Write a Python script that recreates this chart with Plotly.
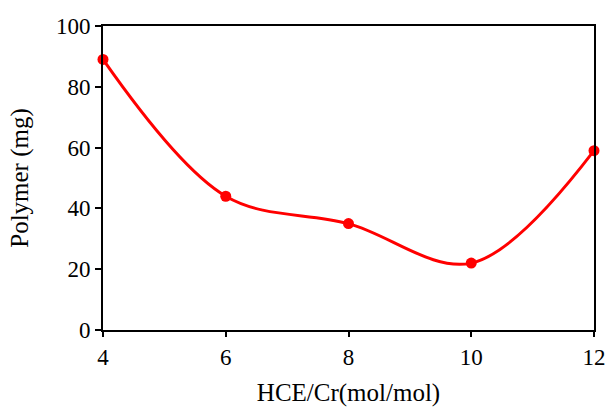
import plotly.graph_objects as go

x_vals = [4, 6, 8, 10, 12]
polymer_mg = [89, 44, 35, 22, 59]
x_ticks = [4, 6, 8, 10, 12]
y_ticks = [0, 20, 40, 60, 80, 100]

fig = go.Figure()
fig.add_trace(go.Scatter(
    x=x_vals, y=polymer_mg, mode="lines+markers",
    line=dict(color="#ff0000", width=3, shape="spline", smoothing=1.0),
    marker=dict(color="#ff0000", size=11),
    cliponaxis=False, showlegend=False,
))

fam = "Liberation Serif, Times New Roman, serif"
tick_font = dict(family=fam, size=23, color="black")
title_font = dict(family=fam, size=25, color="black")
fig.update_layout(
    width=606, height=411,
    margin=dict(l=103, r=12, t=26, b=81),
    plot_bgcolor="white", paper_bgcolor="white",
    font=tick_font,
)
fig.update_xaxes(
    range=[4, 12], tickvals=x_ticks, showgrid=False, zeroline=False,
    showline=True, linecolor="black", linewidth=2, mirror=True,
    ticks="outside", ticklen=5, tickwidth=1.5, tickcolor="black",
    title=dict(text="HCE/Cr(mol/mol)", font=title_font, standoff=15),
    tickfont=tick_font, automargin=False, ticklabeloverflow="allow",
)
fig.update_yaxes(
    range=[0, 100], tickvals=y_ticks, showgrid=False, zeroline=False,
    showline=True, linecolor="black", linewidth=2, mirror=True,
    ticks="outside", ticklen=6, tickwidth=1.5, tickcolor="black",
    title=dict(text="Polymer (mg)", font=title_font, standoff=20),
    tickfont=tick_font, automargin=False, ticklabeloverflow="allow",
)
fig.write_html(
    "out.html",
    config={"displayModeBar": False},
    post_script="document.body.style.margin='0';document.body.style.overflow='hidden';",
)
